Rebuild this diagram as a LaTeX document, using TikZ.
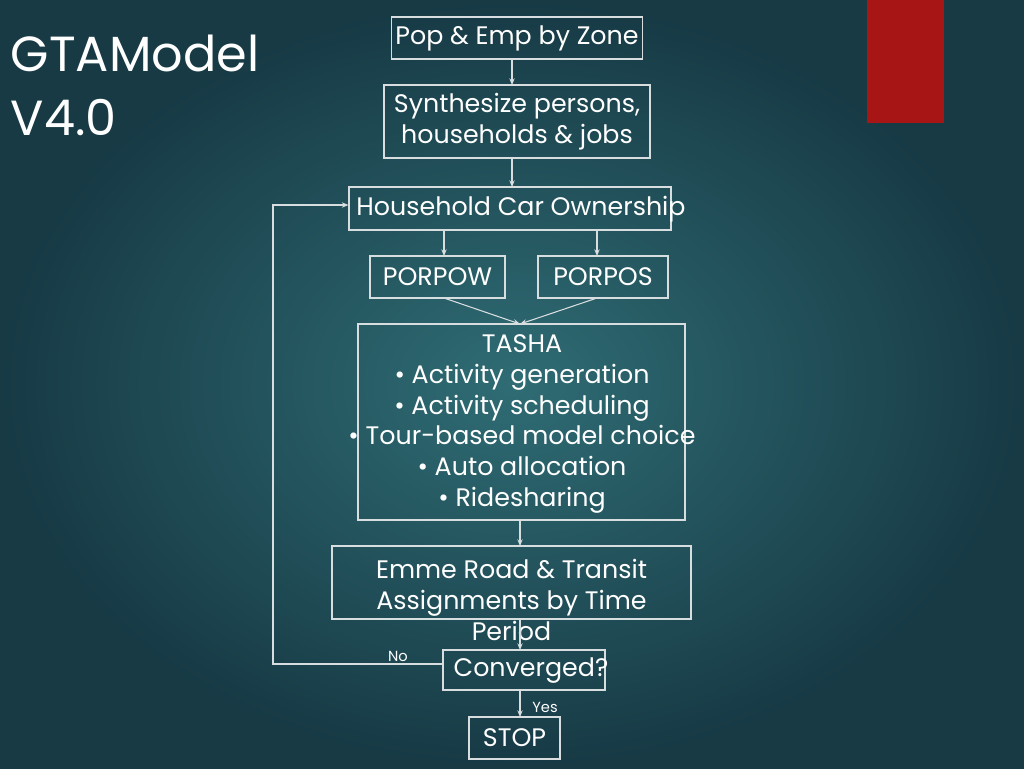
\documentclass[tikz,border=0pt]{standalone}
\usepackage{fontspec}
\setmainfont{Poppins}
\newfontfamily\titlefont{Poppins}
\usetikzlibrary{arrows.meta}
\definecolor{bgc}{HTML}{2F6C74}
\definecolor{bge}{HTML}{173A45}
\definecolor{ln}{HTML}{D8DEE0}
\begin{document}
\begin{tikzpicture}[x=0.75pt,y=-0.75pt,
  box/.style={draw=ln,line width=0.8pt,inner sep=0pt},
  txt/.style={text=white,font=\fontsize{19}{23}\selectfont,align=center},
  arr/.style={draw=ln,line width=0.8pt,-{Stealth[length=5pt,width=4pt]}},
  small/.style={text=white,font=\fontsize{11}{13}\selectfont}]
\shade[inner color=bgc,outer color=bge] (0,0) rectangle (1024,768);
\useasboundingbox (0,0) rectangle (1024,768);
\fill[fill={rgb,255:red,168;green,21;blue,21}] (867,0) rectangle (944,123);
\node[anchor=north west,text=white,font=\titlefont\fontsize{37}{48}\selectfont,align=left] (title) at (6,30) {GTAModel\\V4.0};

\node[box,minimum width=251*0.75pt,minimum height=42*0.75pt] (pop) at (517,38) {};
\node[txt] at (pop) {Pop \& Emp by Zone};
\node[box,minimum width=266*0.75pt,minimum height=73*0.75pt] (syn) at (517,121.5) {};
\node[txt] at (syn) {Synthesize persons,\\households \& jobs};
\node[box,minimum width=322*0.75pt,minimum height=43*0.75pt] (hco) at (510,208.5) {};
\node[txt] at (521,209) {Household Car Ownership};
\node[box,minimum width=135*0.75pt,minimum height=42*0.75pt] (pow) at (437.5,277) {};
\node[txt] at (pow) {PORPOW};
\node[box,minimum width=130*0.75pt,minimum height=42*0.75pt] (pos) at (603,277) {};
\node[txt] at (pos) {PORPOS};
\node[box,minimum width=327*0.75pt,minimum height=196*0.75pt] (tas) at (521.5,422) {};
\node[txt] at (522,424) {TASHA\\\textbullet{} Activity generation\\\textbullet{} Activity scheduling\\\textbullet{} Tour-based model choice\\\textbullet{} Auto allocation\\\textbullet{} Ridesharing};
\node[box,minimum width=359*0.75pt,minimum height=73*0.75pt] (emm) at (511.5,582.5) {};
\node[txt] at (511.5,600) {Emme Road \& Transit\\Assignments by Time\\Period};
\node[box,minimum width=162*0.75pt,minimum height=40*0.75pt] (con) at (524,670) {};
\node[txt] at (531,671) {Converged?};
\node[box,minimum width=91*0.75pt,minimum height=42*0.75pt] (stp) at (514.5,738) {};
\node[txt] at (stp) {STOP};

\draw[arr] (512,59) -- (512,85);
\draw[arr] (512,158) -- (512,187);
\draw[arr] (444,230) -- (444,256);
\draw[arr] (597,230) -- (597,256);
\coordinate (tin) at (520,324);
\draw[arr] (444,298) -- (tin);
\draw[arr] (597,298) -- (tin);
\draw[arr] (520,520) -- (520,546);
\draw[arr] (520,619) -- (520,650);
\draw[arr] (520,690) -- (520,717);
\coordinate (lb) at (273,664);
\coordinate (lt) at (273,205);
\draw[arr] (con.west|-lb) -- (lb) -- (lt) -- (hco.west|-lt);
\node[small] at (398,656) {No};
\node[small] at (545,707) {Yes};
\end{tikzpicture}
\end{document}
